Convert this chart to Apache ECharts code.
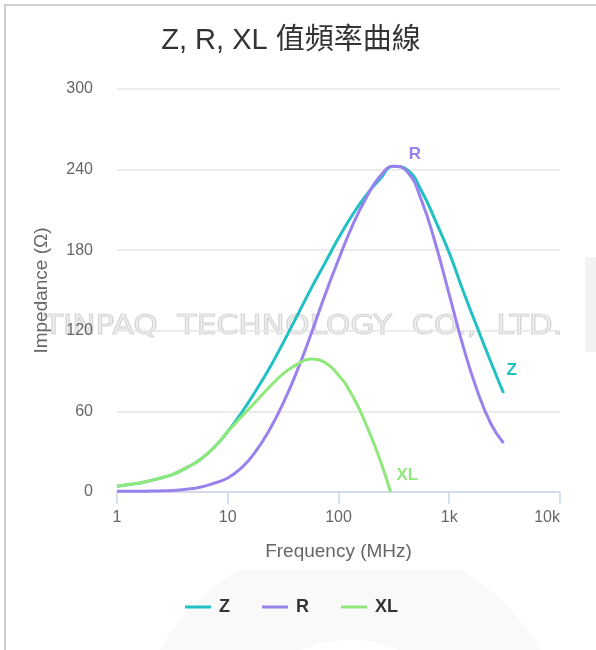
<!DOCTYPE html>
<html>
<head>
<meta charset="utf-8">
<script src="https://cdn.jsdelivr.net/npm/echarts@6/dist/echarts.min.js"></script>
<style>
  html, body { margin: 0; padding: 0; background: #fff; }
  #frame { position: absolute; left: 4px; top: 4px; width: 700px; height: 700px;
           border-left: 2px solid #d0d0d0; border-top: 2px solid #d0d0d0; }
  #chart { position: absolute; left: 0; top: 0; width: 596px; height: 650px; }
</style>
</head>
<body>
<div id="frame"></div>
<div id="chart"></div>
<script>
// ---- data ----
const titleText = 'Z, R, XL 值頻率曲線';
const xName = 'Frequency (MHz)';
const yName = 'Impedance (Ω)';
const watermarkText = 'TINPAQ  TECHNOLOGY  CO.,  LTD.';
const seriesNames = ['Z', 'R', 'XL'];
const yTicks = [0, 60, 120, 180, 240, 300];
const xTickLabels = { 1: '1', 10: '10', 100: '100', 1000: '1k', 10000: '10k' };

// frequencies (MHz) for Z and R
const freqZR = [1, 1.33, 1.78, 2.37, 3.16, 4.22, 5.62, 7.5, 10, 13.3, 17.8, 23.7, 31.6, 42.2, 56.2, 75,
                100, 133, 178, 237, 316, 422, 562, 750, 1000, 1330, 1780, 2370, 3090];
const valZ   = [4.2, 5.7, 7.5, 10, 13, 18, 24, 33, 45, 59, 75, 92, 111, 131, 151, 170,
                189, 206, 221, 233, 242.5, 239.5, 224, 202, 178, 150, 123, 97, 73.7];
const valR   = [0.5, 0.5, 0.6, 0.8, 1.1, 2, 3.5, 6.5, 10.4, 18, 30, 46, 66, 90, 117, 146,
                173, 198, 219, 235, 242.5, 238, 217, 185, 147, 109, 76, 51, 36.5];
// frequencies (MHz) for XL
const freqXL = [1, 1.33, 1.78, 2.37, 3.16, 4.22, 5.62, 7.5, 10, 13.3, 17.8, 23.7, 31.6, 42.2, 56.2, 75,
                100, 133, 178, 237, 295];
const valXL  = [4.2, 5.7, 7.5, 10, 13, 18, 24, 33, 45, 56, 67, 78, 88, 95, 99, 96.5,
                87, 72, 50, 24, 0];

const colors = ['#21c0c4', '#9a82ee', '#8fe87a'];
const FONT = '"Liberation Sans", "Noto Sans CJK TC", sans-serif';

function pairs(xs, ys) { return xs.map((x, i) => [x, ys[i]]); }
function argMax(a) { let k = 0; a.forEach((v, i) => { if (v > a[k]) k = i; }); return k; }

const zData = pairs(freqZR, valZ);
const rData = pairs(freqZR, valR);
const xlData = pairs(freqXL, valXL);

const chart = echarts.init(document.getElementById('chart'), null, { renderer: 'canvas' });

function pointLabel(name, color, offset) {
  return {
    show: true, position: 'right', distance: 0, offset: offset,
    formatter: name, color: color, fontSize: 17, fontWeight: 'bold', fontFamily: FONT
  };
}

const rPeak = argMax(valR);

const option = {
  animation: false,
  textStyle: { fontFamily: FONT },
  title: {
    text: titleText, left: 286, top: 21, textAlign: 'center',
    textStyle: { fontSize: 29, fontWeight: 'normal', color: '#333', fontFamily: FONT }
  },
  graphic: [
    { type: 'ring', shape: { cx: 350, cy: 760, r: 220, r0: 120 }, z: -3, silent: true,
      style: { fill: 'rgba(0,0,0,0.025)' } },
    { type: 'rect', shape: { x: 100, y: 496, width: 496, height: 74 }, z: -2, silent: true,
      style: { fill: '#fff' } },
    { type: 'rect', shape: { x: 585, y: 257, width: 11, height: 95 }, z: -2, silent: true,
      style: { fill: 'rgba(0,0,0,0.05)' } },
    { type: 'text', x: 44, y: 314, scaleX: 1.2, z: -1, silent: true,
      style: { text: watermarkText, font: '26px "DejaVu Sans"',
               fill: 'rgba(0,0,0,0.05)', stroke: 'rgba(120,120,120,0.26)', lineWidth: 1.2 } }
  ],
  color: colors,
  legend: {
    bottom: 29, left: 180, itemGap: 32, itemWidth: 26, itemHeight: 12,
    icon: 'path://M0,5 L26,5 L26,8 L0,8 Z',
    data: seriesNames,
    textStyle: { fontSize: 18, fontWeight: 'bold', color: '#333', fontFamily: FONT, padding: [0, 0, 0, 3] }
  },
  grid: { left: 117, right: 36, top: 89, bottom: 158, containLabel: false },
  xAxis: {
    type: 'log', logBase: 10, min: 1, max: 10000,
    name: xName, nameLocation: 'middle', nameGap: 50,
    nameTextStyle: { fontSize: 19, color: '#666', fontFamily: FONT },
    axisLine: { show: true, lineStyle: { color: '#ccd6eb', width: 1.5 } },
    axisTick: { show: true, length: 12, lineStyle: { color: '#ccd6eb', width: 1.5 } },
    minorTick: { show: false },
    splitLine: { show: false },
    axisLabel: {
      fontSize: 16, color: '#666', margin: 18, alignMaxLabel: 'right',
      formatter: v => xTickLabels[Math.round(v)] || ''
    }
  },
  yAxis: {
    type: 'value', min: yTicks[0], max: yTicks[yTicks.length - 1], interval: 60,
    name: yName, nameLocation: 'middle', nameGap: 66,
    nameTextStyle: { fontSize: 19, color: '#666', fontFamily: FONT },
    axisLine: { show: false }, axisTick: { show: false },
    splitLine: { lineStyle: { color: '#e6e6e6', width: 1.5 } },
    axisLabel: { fontSize: 16, color: '#666', margin: 24 }
  },
  series: [
    {
      name: seriesNames[0], type: 'line', data: zData, smooth: 0.5, symbol: 'none',
      lineStyle: { width: 3, color: colors[0] }, itemStyle: { color: colors[0] }, z: 3,
      markPoint: { symbol: 'circle', symbolSize: 0, silent: true,
        data: [{ coord: zData[zData.length - 1], label: pointLabel(seriesNames[0], colors[0], [3, -23]) }] }
    },
    {
      name: seriesNames[1], type: 'line', data: rData, smooth: 0.5, symbol: 'none',
      lineStyle: { width: 3, color: colors[1] }, itemStyle: { color: colors[1] }, z: 4,
      markPoint: { symbol: 'circle', symbolSize: 0, silent: true,
        data: [{ coord: rData[rPeak], label: pointLabel(seriesNames[1], colors[1], [15, -12]) }] }
    },
    {
      name: seriesNames[2], type: 'line', data: xlData, smooth: 0.5, symbol: 'none',
      lineStyle: { width: 3, color: colors[2] }, itemStyle: { color: colors[2] }, z: 5,
      markPoint: { symbol: 'circle', symbolSize: 0, silent: true,
        data: [{ coord: xlData[xlData.length - 1], label: pointLabel(seriesNames[2], colors[2], [6, -17]) }] }
    }
  ]
};
chart.setOption(option);
</script>
</body>
</html>
